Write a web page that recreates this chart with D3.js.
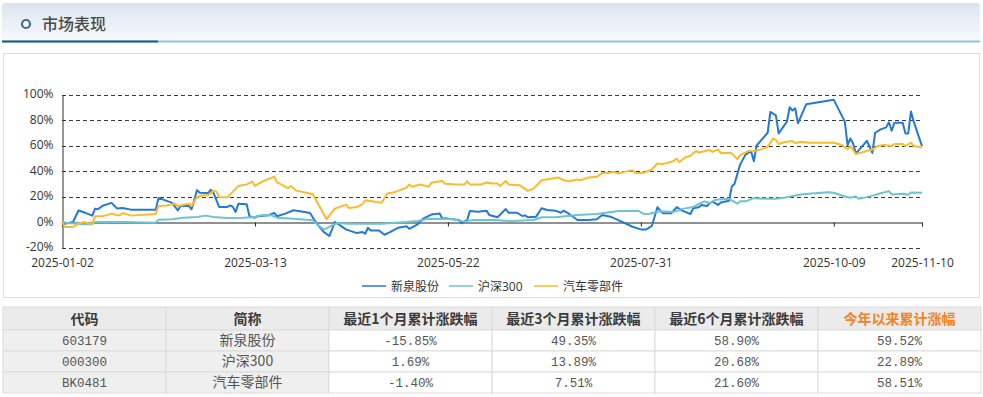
<!DOCTYPE html>
<html>
<head>
<meta charset="utf-8">
<script src="https://cdn.jsdelivr.net/npm/d3@7"></script>
<style>
  body { margin: 0; background: #fff; }
  svg text { font-family: "Open Sans", "Noto Sans CJK SC", sans-serif; }
</style>
</head>
<body>
<div id="chart"></div>
<script>
// ---- data (percent change since 2025-01-02) ----
var xqDates = [
  "01-02","01-03","01-06","01-08","01-10","01-13","01-14","01-15","01-17","01-20",
  "01-22","01-24","01-27","02-05","02-06","02-11","02-13","02-14","02-17","02-18",
  "02-20","02-21","02-24","02-25","02-26","02-28","03-03","03-04","03-05","03-06",
  "03-07","03-10","03-11","03-13","03-14","03-18","03-20","03-21","03-24","03-27",
  "03-31","04-02","04-04","04-07","04-09","04-11","04-12","04-15","04-19","04-21",
  "04-22","04-23","04-24","04-27","04-29","05-01","05-04","05-07","05-08","05-11",
  "05-13","05-16","05-19","05-20","05-21","05-23","05-26","05-27","05-29","05-30",
  "06-02","06-05","06-06","06-09","06-12","06-13","06-16","06-18","06-19","06-20",
  "06-23","06-25","06-27","06-30","07-02","07-03","07-05","07-08","07-12","07-15",
  "07-17","07-20","07-24","07-28","07-31","08-02","08-04","08-06","08-08","08-11",
  "08-13","08-15","08-18","08-19","08-21","08-22","08-24","08-25","08-26","08-28",
  "08-29","09-01","09-02","09-03","09-05","09-07","09-09","09-10","09-11","09-15",
  "09-16","09-18","09-19","09-22","09-23","09-24","09-25","09-26","09-29","10-09",
  "10-13","10-14","10-15","10-16","10-17","10-21","10-23","10-24","10-26","10-28",
  "10-29","10-30","10-31","11-03","11-04","11-05","11-06","11-07","11-10"
];
var xqVals = [
  0, -1.3, 0, 9, 7.6, 5, 10.5, 10, 13, 15,
  10.5, 11, 9.7, 9.7, 18.9, 15, 9, 12.6, 12.6, 10,
  25, 23, 22.7, 25.3, 22.7, 11.8, 11.8, 13, 11.8, 7.9,
  14.4, 13.9, 4.5, 3.4, 4.5, 5.3, 7.1, 4.5, 6.6, 9.2,
  7.9, 7.1, 0, -7.9, -11, 0, -1.3, -5.8, -8.7, -7.9,
  -9.2, -4.5, -6.6, -6.6, -10, -7.9, -4.5, -3.4, -5.3, -1.8,
  2.6, 5.8, 6.6, 2.6, 2.9, 2.4, 1.6, -1, 1.6, 8.7,
  8.1, 8.9, 5.5, 3.7, 10.2, 7.3, 7.3, 4.7, 5.2, 3.7,
  4.2, 10.8, 9.4, 8.9, 7.3, 8.9, 6.3, 1.6, 1.6, 2.1,
  5.5, 4.2, 0.3, -3.7, -5.8, -5.8, -3.1, 11.6, 6.8, 6.8,
  11.6, 8.9, 6.3, 10.8, 11.6, 13.4, 12.6, 14.7, 16, 13.4,
  15.3, 16.6, 27.9, 30, 45, 52.9, 55.5, 47.6, 60, 70,
  86.3, 83.7, 69.5, 78.7, 90, 87.4, 89.2, 77.4, 92.4, 95.8,
  78.7, 60.3, 65.5, 61.6, 53.7, 63.7, 54.2, 70, 72.6, 74.2,
  78.2, 71.6, 77.9, 77.9, 69.5, 69.5, 86.6, 78.7, 59.5
];

var hsDates = [
  "01-02","01-04","01-10","01-13","01-14","01-25","02-05","02-06","02-11","02-15",
  "02-20","02-23","02-26","03-03","03-09","03-13","03-15","03-19","03-21","03-27",
  "04-03","04-04","04-07","04-10","04-12","04-16","04-28","05-07","05-11","05-15",
  "05-21","05-24","05-28","05-31","06-08","06-14","06-22","06-25","06-30","07-08",
  "07-15","07-23","07-30","08-01","08-03","08-07","08-12","08-15","08-19","08-23",
  "08-25","08-27","09-01","09-04","09-05","09-07","09-10","09-15","09-18","09-22",
  "09-27","10-02","10-07","10-09","10-13","10-15","10-17","10-18","10-21","10-24",
  "10-26","10-29","10-30","11-03","11-05","11-06","11-10"
];
var hsVals = [
  0, -0.8, -1.8, -1.8, 0, 0, -0.5, 1.8, 2.1, 3.4,
  3.9, 5, 3.9, 3.1, 3.4, 3.9, 5.2, 5.2, 3.4, 2.6,
  1.3, -0.8, -6, -2.6, -0.8, -1.3, -1.3, 0, 0.8, 2.6,
  2.4, 2.1, 0.3, 1.6, 1.6, 0.8, 1.6, 3.7, 3.7, 5.5,
  6.3, 8.7, 8.9, 6.3, 6.5, 8.5, 7.9, 10.3, 11.8, 16.2,
  14.9, 17.4, 18.2, 14.4, 16.2, 16.2, 18.7, 18.2, 18.2, 19.5,
  21.6, 22.6, 23.4, 22.9, 20, 19, 20, 18.2, 19.5, 21.3,
  22.6, 24.2, 21.6, 22.1, 21.3, 23.1, 22.9
];

var qcDates = [
  "01-02","01-03","01-06","01-08","01-10","01-12","01-13","01-14","01-17","01-20",
  "01-22","01-23","01-24","01-27","02-05","02-06","02-09","02-12","02-13","02-16",
  "02-17","02-18","02-20","02-22","02-24","02-26","02-27","02-28","03-03","03-04",
  "03-07","03-10","03-12","03-13","03-15","03-17","03-19","03-20","03-21","03-23",
  "03-25","03-26","03-28","04-01","04-03","04-08","04-11","04-15","04-16","04-19",
  "04-21","04-22","04-24","04-26","04-28","04-30","05-03","05-07","05-08","05-09",
  "05-12","05-15","05-16","05-20","05-21","05-24","05-28","05-29","05-30","06-03",
  "06-05","06-07","06-09","06-10","06-12","06-13","06-17","06-20","06-22","06-25",
  "06-29","07-01","07-03","07-05","07-08","07-09","07-12","07-15","07-17","07-19",
  "07-21","07-23","07-25","07-28","07-29","07-31","08-01","08-04","08-06","08-08",
  "08-11","08-12","08-13","08-14","08-16","08-18","08-20","08-21","08-25","08-26",
  "08-28","08-29","09-01","09-02","09-04","09-05","09-08","09-10","09-12","09-15",
  "09-17","09-18","09-19","09-21","09-24","09-25","09-27","09-30","10-09","10-12",
  "10-14","10-15","10-17","10-20","10-23","10-25","10-27","10-30","10-31","11-03",
  "11-04","11-06","11-07","11-10"
];
var qcVals = [
  0, -4, -4, -1.3, 0, -1.3, -1.3, 4.6, 4.6, 6.6,
  5.3, 5.3, 7, 5, 6.3, 12.6, 13, 14.4, 12.3, 14,
  14.4, 12.6, 19.7, 21, 21, 24.6, 24, 19.4, 19.4, 21.5,
  28.3, 29.5, 31.7, 28.3, 31, 33, 34.6, 35.6, 31, 28.9,
  26.5, 28.3, 24.6, 22.8, 21.8, 2.2, 10.5, 13.6, 11, 11.8,
  13.9, 17, 16.5, 15.7, 15.2, 22.3, 23.6, 27, 29.4, 27.6,
  29.4, 27.6, 30.7, 32.3, 30, 29.6, 29.4, 32, 29.4, 29.4,
  31, 30.2, 30.2, 28.3, 32.3, 29.4, 28.9, 24.4, 26.2, 32.8,
  34.1, 34.9, 32.8, 32, 33.3, 32.8, 34.9, 35.4, 38.5, 38.5,
  39.3, 38, 39.3, 40.6, 38.5, 38.5, 38.6, 41.2, 45.9, 45.4,
  47.2, 48, 49.8, 47, 50.6, 51.9, 55.6, 54.5, 56.4, 55,
  56.9, 54, 54.3, 53.8, 49.3, 52.5, 55.6, 55.9, 56.4, 59,
  65.6, 64.3, 61.2, 62.5, 63.5, 61.7, 63, 62.2, 62.2, 60.4,
  56.9, 59.6, 53.3, 55.1, 56.9, 59.6, 60.4, 59.6, 61.2, 61.2,
  59.6, 62.2, 59.6, 58.5
];

var seriesNames = ["新泉股份", "沪深300", "汽车零部件"];
var seriesColors = ["#2478d6", "#6cc4cf", "#fbbb2b"];
var xTickLabels = ["2025-01-02", "2025-03-13", "2025-05-22", "2025-07-31", "2025-10-09", "2025-11-10"];
var yTicks = [-20, 0, 20, 40, 60, 80, 100];

// table
var tableHeaders = ["代码", "简称", "最近1个月累计涨跌幅", "最近3个月累计涨跌幅", "最近6个月累计涨跌幅", "今年以来累计涨幅"];
var codes = ["603179", "000300", "BK0481"];
var names = ["新泉股份", "沪深300", "汽车零部件"];
var chg1m = ["-15.85%", "1.69%", "-1.40%"];
var chg3m = ["49.35%", "13.89%", "7.51%"];
var chg6m = ["58.90%", "20.68%", "21.60%"];
var chgYtd = ["59.52%", "22.89%", "58.51%"];

var svgWidth = 983;
var svgHeight = 397;
var parseDate = d3.timeParse("%Y-%m-%d");
var md = s => parseDate("2025-" + s);

var svg = d3.select("#chart")
    .append("svg")
    .attr("width", svgWidth)
    .attr("height", svgHeight);

// ---- section header ----
var defs = svg.append("defs");
var grad = defs.append("linearGradient")
    .attr("id", "hdr")
    .attr("x1", 0).attr("y1", 0).attr("x2", 0).attr("y2", 1);
grad.append("stop").attr("offset", "0%").attr("stop-color", "#dbe5ef");
grad.append("stop").attr("offset", "100%").attr("stop-color", "#f7f9fc");

svg.append("rect")
    .attr("x", 2).attr("y", 3)
    .attr("width", 978).attr("height", 38)
    .attr("rx", 3)
    .attr("fill", "url(#hdr)");
svg.append("rect")
    .attr("x", 2).attr("y", 40.5)
    .attr("width", 978).attr("height", 2)
    .attr("fill", "#93c1dd");
svg.append("rect")
    .attr("x", 2).attr("y", 40.5)
    .attr("width", 156).attr("height", 2)
    .attr("fill", "#1f5d8a");
svg.append("circle")
    .attr("cx", 26).attr("cy", 24).attr("r", 4)
    .attr("fill", "#fff")
    .attr("stroke", "#3a6c94")
    .attr("stroke-width", 2.2);
svg.append("text")
    .attr("x", 42).attr("y", 29.5)
    .attr("font-size", 16)
    .attr("font-weight", 500)
    .attr("fill", "#4a4a4a")
    .style("font-family", "'Noto Sans CJK SC', sans-serif")
    .text("市场表现");

// chart frame
svg.append("rect")
    .attr("x", 3.5).attr("y", 53.5)
    .attr("width", 976).attr("height", 244)
    .attr("fill", "none")
    .attr("stroke", "#dedede");

// ---- line chart ----
var x = d3.scaleTime()
    .domain([md("01-02"), md("11-10")])
    .range([62, 922]);
var y = d3.scaleLinear()
    .domain([-20, 100])
    .range([247.5, 94.5]);

var chartGroup = svg.append("g");

// dashed grid
chartGroup.append("g")
    .selectAll("line")
    .data(yTicks.filter(d => d !== 0))
    .enter()
    .append("line")
    .attr("x1", 62).attr("x2", 922)
    .attr("y1", d => Math.round(y(d)) + 0.5)
    .attr("y2", d => Math.round(y(d)) + 0.5)
    .attr("stroke", "#3a3a3a")
    .attr("stroke-dasharray", "4,3");

// y axis labels + axis line
var leftAxis = d3.axisLeft(y)
    .tickValues(yTicks)
    .tickFormat(d => d + "%")
    .tickSize(0)
    .tickPadding(9);
var yAxisG = chartGroup.append("g")
    .attr("transform", "translate(62.5,0)")
    .call(leftAxis);
yAxisG.select(".domain").attr("stroke", "#333");
yAxisG.selectAll("text")
    .attr("font-size", 12)
    .attr("dy", "0.25em")
    .attr("fill", "#333")
    .style("font-family", "'Open Sans', sans-serif");

// zero line with tick marks
var tickDates = xTickLabels.map(parseDate);
var bottomAxis = d3.axisBottom(x)
    .tickValues(tickDates)
    .tickFormat("")
    .tickSize(4)
    .tickSizeOuter(0);
var zeroG = chartGroup.append("g")
    .attr("transform", `translate(0, ${Math.round(y(0)) + 0.5})`)
    .call(bottomAxis);
zeroG.select(".domain").attr("stroke", "#222");
zeroG.selectAll(".tick line").attr("stroke", "#222");

// x tick labels below the chart
var labelAxis = d3.axisBottom(x)
    .tickValues(tickDates)
    .tickFormat(d3.timeFormat("%Y-%m-%d"))
    .tickSize(0)
    .tickPadding(11);
var labG = chartGroup.append("g")
    .attr("transform", `translate(0, ${y(-20)})`)
    .call(labelAxis);
labG.select(".domain").remove();
labG.selectAll("text")
    .attr("font-size", 12)
    .attr("fill", "#333")
    .style("font-family", "'Open Sans', sans-serif");

// series lines
var allSeries = [
    d3.zip(xqDates, xqVals),
    d3.zip(hsDates, hsVals),
    d3.zip(qcDates, qcVals)
];
var line = d3.line()
    .x(d => x(md(d[0])))
    .y(d => y(d[1]));

chartGroup.append("g")
    .selectAll("path")
    .data(allSeries)
    .enter()
    .append("path")
    .attr("d", line)
    .attr("fill", "none")
    .attr("stroke", (d, i) => seriesColors[i])
    .attr("stroke-width", 2)
    .attr("stroke-linejoin", "round");

// legend
var legendX = [362, 449, 534];
var legend = svg.append("g")
    .selectAll("g")
    .data(seriesNames)
    .enter()
    .append("g")
    .attr("transform", (d, i) => `translate(${legendX[i]}, 286)`);
legend.append("line")
    .attr("x1", 0).attr("x2", 24)
    .attr("y1", 0).attr("y2", 0)
    .attr("stroke", (d, i) => seriesColors[i])
    .attr("stroke-width", 1.5);
legend.append("text")
    .attr("x", 29)
    .attr("y", 4.5)
    .attr("font-size", 12)
    .attr("fill", "#333")
    .text(d => d);

// ---- table ----
var colX = d3.scaleBand()
    .domain(d3.range(tableHeaders.length))
    .range([3, 981]);
var headTop = 307, headH = 23, rowH = 21;
var rows = d3.range(codes.length).map(i => [codes[i], names[i], chg1m[i], chg3m[i], chg6m[i], chgYtd[i]]);
var table = svg.append("g");

// header cells
table.selectAll("rect.h")
    .data(tableHeaders)
    .enter()
    .append("rect")
    .attr("class", "h")
    .attr("x", (d, i) => colX(i))
    .attr("y", headTop)
    .attr("width", colX.bandwidth())
    .attr("height", headH)
    .attr("fill", "#ebebeb")
    .attr("stroke", "#dcdcdc");
table.selectAll("text.h")
    .data(tableHeaders)
    .enter()
    .append("text")
    .attr("class", "h")
    .attr("x", (d, i) => colX(i) + colX.bandwidth() / 2)
    .attr("y", headTop + headH / 2 + 5)
    .attr("text-anchor", "middle")
    .attr("font-size", 14)
    .attr("font-weight", "bold")
    .attr("fill", (d, i) => i === 5 ? "#f5821f" : "#3a3a3a")
    .style("font-family", "'Noto Sans CJK SC', sans-serif")
    .text(d => d);

// body cells
var rowG = table.selectAll("g.row")
    .data(rows)
    .enter()
    .append("g")
    .attr("class", "row")
    .attr("transform", (d, r) => `translate(0, ${headTop + headH + r * rowH})`);
rowG.selectAll("rect")
    .data(d => d)
    .enter()
    .append("rect")
    .attr("x", (d, i) => colX(i))
    .attr("y", 0)
    .attr("width", colX.bandwidth())
    .attr("height", rowH)
    .attr("fill", (d, i) => i < 2 ? "#efefef" : "#fff")
    .attr("stroke", "#dcdcdc");
rowG.selectAll("text")
    .data(d => d)
    .enter()
    .append("text")
    .attr("x", (d, i) => colX(i) + colX.bandwidth() / 2)
    .attr("y", rowH / 2 + 4.5)
    .attr("text-anchor", "middle")
    .attr("font-size", (d, i) => i === 1 ? 14 : 12.5)
    .attr("fill", "#555")
    .style("font-family", (d, i) => i === 1 ? "'Noto Sans CJK SC', sans-serif" : "'Liberation Mono', 'Noto Sans CJK SC', monospace")
    .text(d => d);
</script>
</body>
</html>
